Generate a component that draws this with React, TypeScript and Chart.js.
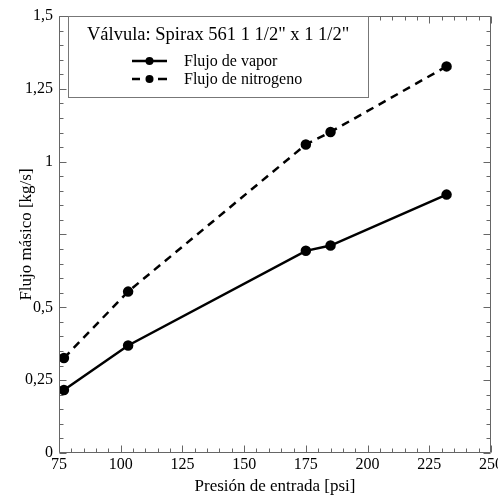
import { useEffect, useRef } from "react";
import { Chart, registerables } from "chart.js";

Chart.register(...registerables);

const presion = [77, 103, 175, 185, 232];
const flujoVapor = [0.216, 0.369, 0.694, 0.712, 0.887];
const flujoNitrogeno = [0.326, 0.554, 1.059, 1.102, 1.327];
const seriesLabels = ["Flujo de vapor", "Flujo de nitrogeno"];
const legendTitle = 'Válvula: Spirax 561 1 1/2" x 1 1/2"';
const xTicks = [75, 100, 125, 150, 175, 200, 225, 250];
const xTickLabels = ["75", "100", "125", "150", "175", "200", "225", "250"];
const yTicks = [0, 0.25, 0.5, 0.75, 1, 1.25, 1.5];
const yTickLabels = ["0", "0,25", "0,5", "", "1", "1,25", "1,5"];
const xMinorStep = 5;
const yMinorStep = 0.05;
const xTitle = "Presión de entrada [psi]";
const yTitle = "Flujo másico [kg/s]";

const FONT = "'Liberation Serif', 'Times New Roman', serif";
const AXIS_COLOR = "#666";

const framePlugin = {
  id: "frame",
  afterDatasetsDraw(chart: any) {
    const { ctx, chartArea } = chart;
    const xs = chart.scales.x;
    const ys = chart.scales.y;
    const L = Math.round(chartArea.left) + 0.5;
    const R = Math.round(chartArea.right) - 0.5;
    const T = Math.round(chartArea.top) + 0.5;
    const B = Math.round(chartArea.bottom) - 0.5;
    ctx.save();
    ctx.strokeStyle = AXIS_COLOR;
    ctx.lineWidth = 1;
    ctx.beginPath();
    ctx.rect(L, T, R - L, B - T);
    const major = 7;
    const minor = 4;
    const xMin = xTicks[0];
    const xMax = xTicks[xTicks.length - 1];
    for (let v = xMin; v <= xMax + 1e-9; v += xMinorStep) {
      const isMajor = xTicks.some((t) => Math.abs(t - v) < 1e-6);
      const len = isMajor ? major : minor;
      const px = Math.round(xs.getPixelForValue(v)) + 0.5;
      ctx.moveTo(px, B);
      ctx.lineTo(px, B - len);
      ctx.moveTo(px, T);
      ctx.lineTo(px, T + len);
    }
    const yMin = yTicks[0];
    const yMax = yTicks[yTicks.length - 1];
    for (let v = yMin; v <= yMax + 1e-9; v += yMinorStep) {
      const isMajor = yTicks.some((t) => Math.abs(t - v) < 1e-6);
      const len = isMajor ? major : minor;
      const py = Math.round(ys.getPixelForValue(v)) + 0.5;
      ctx.moveTo(L, py);
      ctx.lineTo(L + len, py);
      ctx.moveTo(R, py);
      ctx.lineTo(R - len, py);
    }
    ctx.stroke();
    ctx.restore();
  },
};

const legendPlugin = {
  id: "boxLegend",
  afterDraw(chart: any) {
    const { ctx } = chart;
    const bx = 68.5;
    const by = 16.5;
    const bw = 300;
    const bh = 81;
    ctx.save();
    ctx.fillStyle = "#fff";
    ctx.fillRect(bx, by, bw, bh);
    ctx.strokeStyle = "#777";
    ctx.lineWidth = 1;
    ctx.strokeRect(bx, by, bw, bh);
    ctx.fillStyle = "#000";
    ctx.textBaseline = "middle";
    ctx.textAlign = "left";
    ctx.font = `18.5px ${FONT}`;
    ctx.fillText(legendTitle, 87, 35);
    ctx.font = `16px ${FONT}`;
    chart.data.datasets.forEach((ds: any, i: number) => {
      const y = 61 + i * 18;
      ctx.strokeStyle = ds.borderColor;
      ctx.lineWidth = ds.borderWidth;
      ctx.beginPath();
      if (ds.borderDash && ds.borderDash.length) {
        ctx.moveTo(132, y);
        ctx.lineTo(140, y);
        ctx.moveTo(158, y);
        ctx.lineTo(167, y);
      } else {
        ctx.moveTo(132, y);
        ctx.lineTo(167, y);
      }
      ctx.stroke();
      ctx.fillStyle = ds.pointBackgroundColor;
      ctx.beginPath();
      ctx.arc(149.5, y, ds.pointRadius, 0, Math.PI * 2);
      ctx.fill();
      ctx.fillStyle = "#000";
      ctx.fillText(ds.label, 184, y + 1);
    });
    ctx.restore();
  },
};

export default function App() {
  const ref = useRef<HTMLCanvasElement | null>(null);
  useEffect(() => {
    if (!ref.current) return;
    const chart = new Chart(ref.current, {
      type: "line",
      data: {
        datasets: [
          {
            label: seriesLabels[0],
            data: presion.map((x, i) => ({ x, y: flujoVapor[i] })),
            borderColor: "#000",
            backgroundColor: "#000",
            pointBackgroundColor: "#000",
            pointBorderColor: "#000",
            borderWidth: 2.5,
            pointRadius: 4,
            tension: 0,
          },
          {
            label: seriesLabels[1],
            data: presion.map((x, i) => ({ x, y: flujoNitrogeno[i] })),
            borderColor: "#000",
            backgroundColor: "#000",
            pointBackgroundColor: "#000",
            pointBorderColor: "#000",
            borderWidth: 2.5,
            borderDash: [8, 6],
            pointRadius: 4,
            tension: 0,
          },
        ],
      },
      options: {
        animation: false,
        responsive: false,
        layout: { padding: { left: 0, right: 7, top: 16, bottom: 0 } },
        plugins: {
          legend: { display: false },
          tooltip: { enabled: false },
        },
        scales: {
          x: {
            type: "linear",
            min: xTicks[0],
            max: xTicks[xTicks.length - 1],
            afterBuildTicks: (s: any) => {
              s.ticks = xTicks.map((v) => ({ value: v }));
            },
            afterFit: (s: any) => {
              s.height = 44;
              s.paddingLeft = 0;
              s.paddingRight = 0;
            },
            grid: { display: false, drawTicks: false },
            border: { display: false },
            ticks: {
              padding: 2,
              maxRotation: 0,
              autoSkip: false,
              color: "#000",
              font: { family: FONT, size: 16 },
              callback: (v: any) => {
                const i = xTicks.indexOf(Number(v));
                return i >= 0 ? xTickLabels[i] : "";
              },
            },
            title: {
              display: true,
              text: xTitle,
              color: "#000",
              font: { family: FONT, size: 17 },
              padding: { top: 0, bottom: 0 },
            },
          },
          y: {
            type: "linear",
            min: yTicks[0],
            max: yTicks[yTicks.length - 1],
            afterBuildTicks: (s: any) => {
              s.ticks = yTicks.map((v) => ({ value: v }));
            },
            afterFit: (s: any) => {
              s.width = 59;
              s.paddingTop = 0;
              s.paddingBottom = 0;
            },
            grid: { display: false, drawTicks: false },
            border: { display: false },
            ticks: {
              padding: 6,
              autoSkip: false,
              color: "#000",
              font: { family: FONT, size: 16 },
              callback: (v: any) => {
                const i = yTicks.findIndex((t) => Math.abs(t - Number(v)) < 1e-9);
                return i >= 0 ? yTickLabels[i] : "";
              },
            },
            title: {
              display: true,
              text: yTitle,
              color: "#000",
              font: { family: FONT, size: 17 },
              padding: { top: 16, bottom: 0 },
            },
          },
        },
      },
      plugins: [framePlugin, legendPlugin],
    });
    return () => chart.destroy();
  }, []);
  return (
    <div style={{ position: "absolute", left: 0, top: 0, width: 498, height: 497, background: "#fff" }}>
      <canvas ref={ref} width={498} height={497} />
    </div>
  );
}
